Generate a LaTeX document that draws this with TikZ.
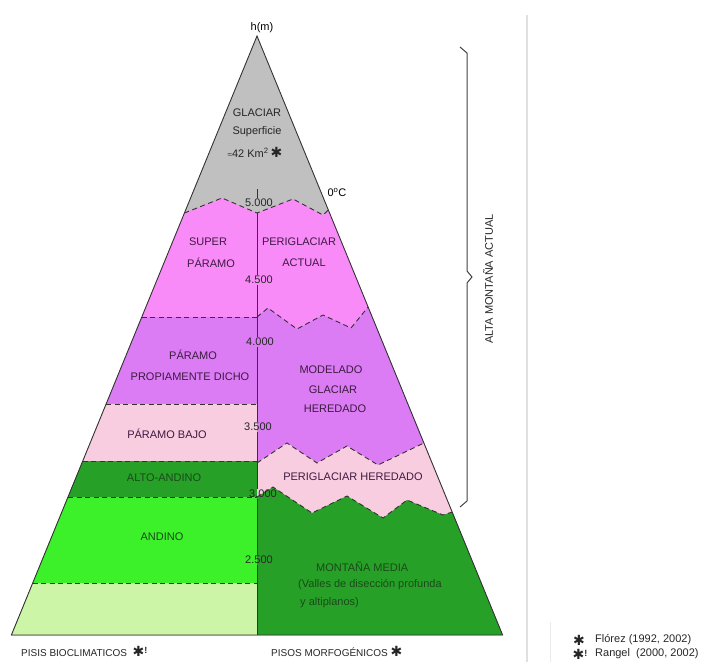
\documentclass[tikz,border=0pt]{standalone}
\usepackage{fontspec}
\setmainfont{Liberation Sans}
\newfontfamily\symfont{DejaVu Sans}
\definecolor{glac}{HTML}{C0C0C0}
\definecolor{pinkA}{HTML}{F98BF9}
\definecolor{violA}{HTML}{DB7CF5}
\definecolor{rosaA}{HTML}{F8CDE0}
\definecolor{verdeO}{HTML}{27A027}
\definecolor{verdeV}{HTML}{3CF02A}
\definecolor{verdeC}{HTML}{CDF5A8}
\definecolor{txtp}{HTML}{3D1A40}
\definecolor{txtg}{HTML}{1B4A1B}
\definecolor{linec}{HTML}{333333}
\newcommand{\stk}{{\symfont\fontsize{14}{14}\selectfont ✱}}
\newcommand{\stkb}{{\symfont\fontsize{14}{14}\selectfont ✱}\raisebox{2.5pt}{\fontsize{9}{9}\selectfont\bfseries !}}
\begin{document}
\begin{tikzpicture}[x=1pt,y=-1pt,
  lbl/.style={inner sep=1pt, font=\fontsize{11}{13}\selectfont},
  lblp/.style={lbl, text=txtp},
  lblg/.style={lbl, text=txtg},
  num/.style={lbl, text=black!85},
  small/.style={inner sep=1pt, font=\fontsize{10}{12}\selectfont, text=black!85},
  dashl/.style={draw=linec, line width=0.9pt, dash pattern=on 5pt off 3.5pt},
  outl/.style={draw=linec, line width=0.9pt},
  bracel/.style={draw=black!75, line width=1pt},
  sepl/.style={draw=black!12, line width=1.5pt}]
\useasboundingbox (0,0) rectangle (701,662);
% main points
\coordinate (apex) at (257,36);
\coordinate (bl) at (11.4,635);
\coordinate (br) at (502.6,635);
\coordinate (bm) at (257,635);
% fills
\fill[glac] (apex) -- (br) -- (bl) -- cycle;
\fill[pinkA] (184.4,213) -- (222,198) -- (257,213) -- (293,199) -- (323,215) -- (328.3,210) -- (br) -- (bl) -- cycle;
\fill[violA] (141.8,317) -- (257,317) -- (268,308) -- (297,329) -- (323,315) -- (351,328) -- (368.1,307) -- (br) -- (bl) -- cycle;
\fill[rosaA] (106.1,404) -- (257,404) -- (bm) -- (bl) -- cycle;
\fill[verdeO] (82.7,461) -- (257,461) -- (bm) -- (bl) -- cycle;
\fill[verdeV] (68,497) -- (257,497) -- (bm) -- (bl) -- cycle;
\fill[verdeC] (32.7,583) -- (257,583) -- (bm) -- (bl) -- cycle;
\fill[rosaA] (257,463) -- (287,443) -- (317,463) -- (347,446) -- (378,465) -- (423.9,443) -- (br) -- (bm) -- cycle;
\fill[verdeO] (257,497) -- (273,487) -- (312,513) -- (347,496) -- (383,518) -- (407,500) -- (443,515) -- (452.2,512) -- (br) -- (bm) -- cycle;
% dashed boundaries
\draw[dashl] (184.4,213) -- (222,198) -- (257,213) -- (293,199) -- (323,215) -- (328.3,210);
\draw[dashl] (141.8,317) -- (257,317);
\draw[dashl] (257,317) -- (268,308) -- (297,329) -- (323,315) -- (351,328) -- (368.1,307);
\draw[dashl] (106.1,404) -- (257,404);
\draw[dashl] (82.7,461) -- (257,461);
\draw[dashl] (68,497) -- (257,497);
\draw[dashl] (32.7,583) -- (257,583);
\draw[dashl] (257,463) -- (287,443) -- (317,463) -- (347,446) -- (378,465) -- (423.9,443);
\draw[dashl] (257,497) -- (273,487) -- (312,513) -- (347,496) -- (383,518) -- (407,500) -- (443,515) -- (452.2,512);
% outline
\draw[outl] (apex) -- (br) -- (bl) -- cycle;
% altitude labels
\node[lbl] (hm) at (262,28) {h(m)};
\node[num] (n5000) at (259,203) {5.000};
\node[num] (n4500) at (259,280) {4.500};
\node[num] (n4000) at (260,342) {4.000};
\node[num] (n3500) at (258,427) {3.500};
\node[num] (n3000) at (263,494) {3.000};
\node[num] (n2500) at (259,560) {2.500};
\node[lbl] (zero) at (337,192) {0\textsuperscript{o}C};
% divider
\draw[outl] (257,189) -- (n5000.north -| apex);
\draw[outl] (257,213) -- (n4500.north -| apex);
\draw[outl] (n4500.south -| apex) -- (n4000.north -| apex);
\draw[outl] (n4000.south -| apex) -- (n3500.north -| apex);
\draw[outl] (n3500.south -| apex) -- (n3000.north -| apex);
\draw[outl] (n3000.south -| apex) -- (n2500.north -| apex);
\draw[outl] (n2500.south -| apex) -- (bm);
% glacier text
\node[lbl, text=black!85] (glaciar) at (257,113) {GLACIAR};
\node[lbl, text=black!85] (sup) at (257,132) {Superficie};
\node[lbl, text=black!85] (km) at (255,152) {{\fontsize{8}{8}\selectfont ≈}42 Km\textsuperscript{2}\,\stk};
% zone labels
\node[lblp] (super) at (208,242) {SUPER};
\node[lblp] (sparamo) at (211,263) {PÁRAMO};
\node[lblp] (peri) at (299,242) {PERIGLACIAR};
\node[lblp] (actual) at (304,263) {ACTUAL};
\node[lblp] (paramo) at (193,355) {PÁRAMO};
\node[lblp] (propi) at (190,377) {PROPIAMENTE DICHO};
\node[lblp] (model) at (331,370) {MODELADO};
\node[lblp] (glac2) at (333,390) {GLACIAR};
\node[lblp] (hered) at (335,409) {HEREDADO};
\node[lblp] (bajo) at (167,434) {PÁRAMO BAJO};
\node[lblp] (perih) at (353,477) {PERIGLACIAR HEREDADO};
\node[lblg] (alto) at (164,478) {ALTO-ANDINO};
\node[lblg] (andino) at (162,537) {ANDINO};
\node[lblg, anchor=west] (mm) at (315,567) {MONTAÑA MEDIA};
\node[lblg, anchor=west] (valles) at (297,585) {(Valles de disección profunda};
\node[lblg, anchor=west] (alti) at (299,603) {y altiplanos)};
% bottom labels
\node[small, anchor=west] (pisis) at (20,651) {PISIS BIOCLIMATICOS\ \ \stkb};
\node[small, anchor=west] (pisos) at (270,651) {PISOS MORFOGÉNICOS\ \stk};
% brace
\draw[bracel] (460,47) -- (467,53) -- (467,271) -- (472,277) -- (467,283) -- (467,501) -- (460,507);
\node[lbl, rotate=90, text=black!85] (alta) at (488,279) {ALTA MONTAÑA ACTUAL};
% separator
\draw[sepl] (527,15) -- (527,662);
\draw[draw=black!8, line width=1pt] (550,622) -- (550,662);
% legend
\node[lbl, text=black!85] (st1) at (579,640) {\stk};
\node[lbl, anchor=west, text=black!85] (flo) at (594,640) {Flórez (1992, 2002)};
\node[lbl, text=black!85] (st2) at (580,654) {\stkb};
\node[lbl, anchor=west, text=black!85] (ran) at (594,654) {Rangel\ \ (2000, 2002)};
\end{tikzpicture}
\end{document}
